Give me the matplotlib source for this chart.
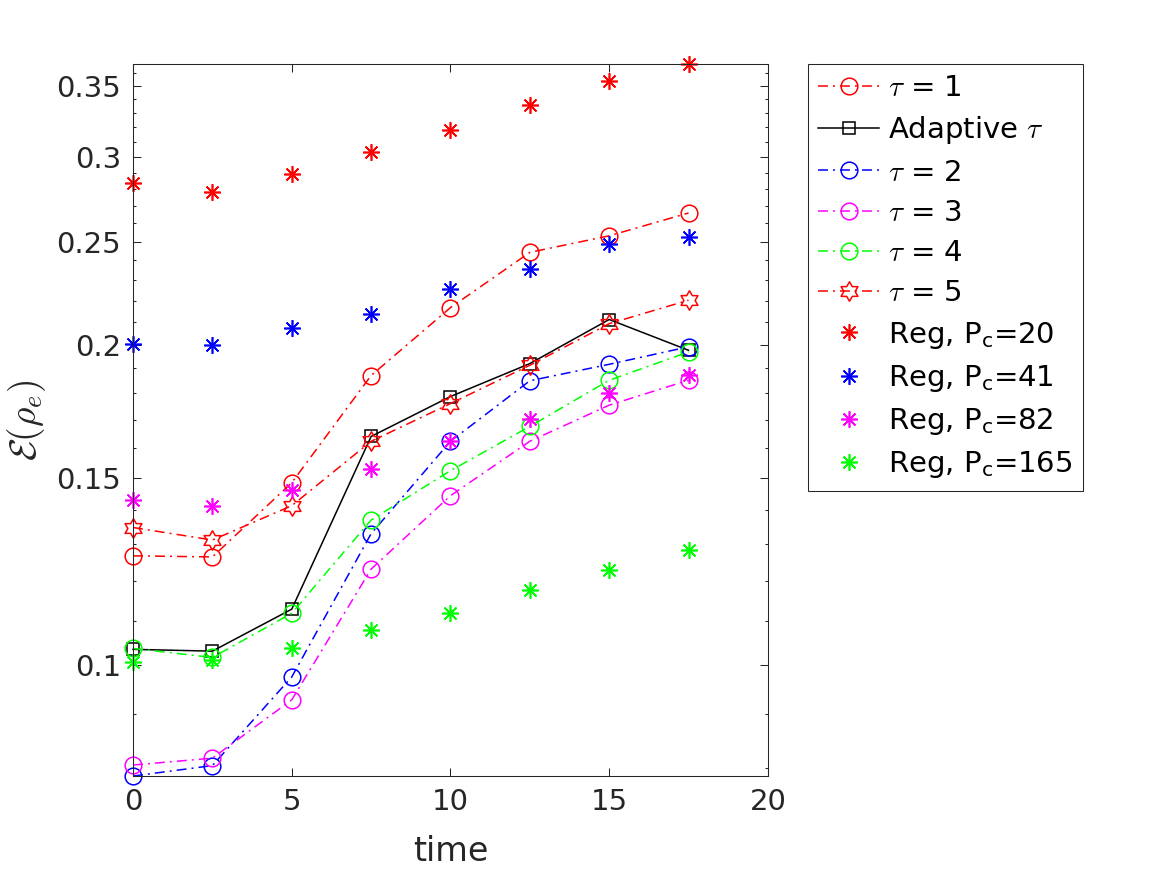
import numpy as np
import matplotlib
matplotlib.use('Agg')
import matplotlib.pyplot as plt
from matplotlib.path import Path
from matplotlib.ticker import FixedLocator, FixedFormatter, NullFormatter

plt.rcParams['font.family'] = ['DejaVu Sans']
plt.rcParams['mathtext.fontset'] = 'dejavusans'

# ----------------------------------------------------------------------
# data
# ----------------------------------------------------------------------
time = [0, 2.5, 5, 7.5, 10, 12.5, 15, 17.5]

tau1     = [0.1267, 0.1264, 0.1484, 0.1871, 0.2167, 0.2442, 0.2531, 0.2659]
adaptive = [0.1035, 0.1031, 0.1129, 0.1640, 0.1788, 0.1920, 0.2112, 0.1976]
tau2     = [0.0787, 0.0805, 0.0975, 0.1329, 0.1623, 0.1850, 0.1917, 0.1991]
tau3     = [0.0806, 0.0818, 0.0928, 0.1231, 0.1443, 0.1623, 0.1755, 0.1852]
tau4     = [0.1037, 0.1017, 0.1119, 0.1369, 0.1523, 0.1676, 0.1852, 0.1969]
tau5     = [0.1347, 0.1311, 0.1412, 0.1623, 0.1761, 0.1913, 0.2093, 0.2202]

reg20  = [0.2840, 0.2784, 0.2893, 0.3035, 0.3183, 0.3360, 0.3538, 0.3670]
reg41  = [0.2005, 0.2000, 0.2075, 0.2135, 0.2258, 0.2354, 0.2484, 0.2524]
reg82  = [0.1429, 0.1412, 0.1460, 0.1528, 0.1623, 0.1704, 0.1800, 0.1872]
reg165 = [0.1008, 0.1011, 0.1039, 0.1079, 0.1120, 0.1176, 0.1230, 0.1282]

tau_labels = [r'$\tau$ = 1', r'Adaptive $\tau$', r'$\tau$ = 2',
              r'$\tau$ = 3', r'$\tau$ = 4', r'$\tau$ = 5']
reg_labels = [r'Reg, P$_{\mathrm{c}}$=20', r'Reg, P$_{\mathrm{c}}$=41',
              r'Reg, P$_{\mathrm{c}}$=82', r'Reg, P$_{\mathrm{c}}$=165']

ytick_vals = [0.1, 0.15, 0.2, 0.25, 0.3, 0.35]
ytick_text = ['0.1', '0.15', '0.2', '0.25', '0.3', '0.35']
xtick_vals = [0, 5, 10, 15, 20]

# ----------------------------------------------------------------------
# hexagram marker (MATLAB 'h')
# ----------------------------------------------------------------------
ang = np.pi / 2 + np.arange(12) * np.pi / 6
rad = np.where(np.arange(12) % 2 == 0, 1.0, 1 / np.sqrt(3))
verts = np.column_stack([rad * np.cos(ang), rad * np.sin(ang)])
verts = np.vstack([verts, verts[:1]])
hexagram = Path(verts, [Path.MOVETO] + [Path.LINETO] * 11 + [Path.CLOSEPOLY])

asterisk = (8, 2, 0)
dashdot = (6.5, 3.3, 1.3, 3.3)
axcol = '#262626'
red, blue, mag, green = '#ff0000', '#0000ff', '#ff00ff', '#00ff00'

fig = plt.figure(figsize=(11.67, 8.75), dpi=100)
ax = fig.add_axes([0.114, 0.1131, 0.544, 0.8138])

lw = 1.1
kw = dict(lw=lw, mew=lw, mfc='none', clip_on=False)
ax.plot(time, tau1, color=red, marker='o', ms=12, dashes=dashdot, label=tau_labels[0], **kw)
ax.plot(time, adaptive, color='k', marker='s', ms=8.5, ls='-', label=tau_labels[1], **kw)
ax.plot(time, tau2, color=blue, marker='o', ms=12, dashes=dashdot, label=tau_labels[2], **kw)
ax.plot(time, tau3, color=mag, marker='o', ms=12, dashes=dashdot, label=tau_labels[3], **kw)
ax.plot(time, tau4, color=green, marker='o', ms=12, dashes=dashdot, label=tau_labels[4], **kw)
ax.plot(time, tau5, color=red, marker=hexagram, ms=14, dashes=dashdot, label=tau_labels[5], **kw)

for vals, col, lab in zip([reg20, reg41, reg82, reg165], [red, blue, mag, green], reg_labels):
    ax.plot(time, vals, ls='none', color=col, marker=asterisk, ms=12, mew=1.2,
            clip_on=False, label=lab)

ax.set_yscale('log')
all_vals = np.concatenate([tau1, adaptive, tau2, tau3, tau4, tau5,
                           reg20, reg41, reg82, reg165])
ax.set_ylim(all_vals.min(), all_vals.max())
ax.set_xlim(0, 20)

ax.yaxis.set_major_locator(FixedLocator(ytick_vals))
ax.yaxis.set_major_formatter(FixedFormatter(ytick_text))
minor = [v / 100 for v in range(8, 37) if v not in (10, 15, 20, 25, 30, 35)]
ax.yaxis.set_minor_locator(FixedLocator(minor))
ax.yaxis.set_minor_formatter(NullFormatter())
ax.set_xticks(xtick_vals)
ax.xaxis.set_minor_locator(FixedLocator([]))

ax.tick_params(which='both', direction='in', top=True, right=True,
               width=0.75, color=axcol, labelcolor=axcol, labelsize=21, pad=8.5)
ax.tick_params(which='major', length=5.5)
ax.tick_params(which='minor', length=2.4)
for sp in ax.spines.values():
    sp.set_color(axcol)
    sp.set_linewidth(0.75)

ax.set_xlabel('time', fontsize=24, color=axcol, labelpad=14)
ax.set_ylabel(r'$\mathcal{E}(\rho_e)$', fontsize=27, color=axcol, labelpad=6,
              math_fontfamily='cm')

leg = ax.legend(loc='upper left', bbox_to_anchor=(808 / 1167, 1 - 64 / 875),
                bbox_transform=fig.transFigure, borderaxespad=0, fontsize=21,
                handlelength=2.1, handletextpad=0.3, borderpad=0.35,
                labelspacing=0.42, fancybox=False, framealpha=1,
                edgecolor=axcol)
leg.get_frame().set_linewidth(0.75)
for t in leg.get_texts()[:6]:
    t.set_math_fontfamily('cm')

fig.savefig('out.png', dpi=100)
